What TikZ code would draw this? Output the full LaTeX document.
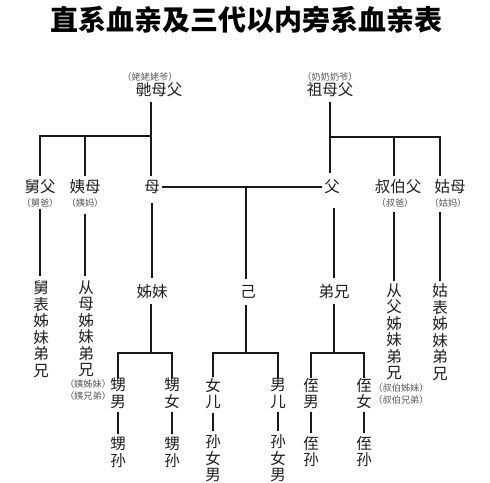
\documentclass[tikz,border=0pt]{standalone}
\usepackage{fontspec}
\setmainfont{Noto Sans CJK SC}
\begin{document}
\begin{tikzpicture}[x=1pt,y=-1pt,
  line width=1.2pt,
  main/.style={inner sep=0pt, font=\fontsize{15.5}{16.5}\selectfont, align=center, text=black!88},
  small/.style={inner sep=0pt, font=\fontsize{9.2}{12}\selectfont, align=center, text=black!65},
  ttl/.style={inner sep=0pt, font=\fontsize{28}{30}\selectfont\bfseries},
  ln/.style={draw=black!90}]
\useasboundingbox[fill=white] (0,0) rectangle (490,482);
% title
\node[ttl] (title) at (246,20) {直系血亲及三代以内旁系血亲表};
% generation 1
\node[small] (wgs) at (150,77) {（姥姥姥爷）};
\node[main]  (wg)  at (159,90) {毑母父};
\node[small] (zgs) at (330,77) {（奶奶奶爷）};
\node[main]  (zg)  at (330,90) {祖母父};
% generation 2
\node[main]  (jiu)  at (40,187) {舅父};
\node[small] (jius) at (40,203) {（舅爸）};
\node[main]  (yi)   at (85,187) {姨母};
\node[small] (yis)  at (85,203) {（姨妈）};
\node[main]  (mu)   at (152,187) {母};
\node[main]  (fu)   at (332,187) {父};
\node[main]  (shu)  at (398,187) {叔伯父};
\node[small] (shus) at (395,203) {（叔爸）};
\node[main]  (gu)   at (450,187) {姑母};
\node[small] (gus)  at (448,203) {（姑妈）};
% generation 3
\node[main] (jiucol) at (41,329) {舅\\表\\姊\\妹\\弟\\兄};
\node[main] (cmcol)  at (86,329) {从\\母\\姊\\妹\\弟\\兄};
\node[main] (zm)     at (152,292) {姊妹};
\node[main] (ji)     at (248,292) {己};
\node[main] (dx)     at (334,292) {弟兄};
\node[main] (cfcol)  at (394,332) {从\\父\\姊\\妹\\弟\\兄};
\node[main] (gbcol)  at (440,332) {姑\\表\\姊\\妹\\弟\\兄};
\node[small] (yizm)  at (88,390) {（姨姊妹）\\（姨兄弟）};
\node[small] (sbzm)  at (401,394) {（叔伯姊妹）\\（叔伯兄弟）};
% generation 4
\node[main] (sn)  at (118,393.5) {甥\\男};
\node[main] (snv) at (172,393.5) {甥\\女};
\node[main] (nv)  at (213,393.5) {女\\儿};
\node[main] (ne)  at (278,393.5) {男\\儿};
\node[main] (zn)  at (311,393.5) {侄\\男};
\node[main] (znv) at (364,393.5) {侄\\女};
% generation 5
\node[main] (ss1) at (118,452.5) {甥\\孙};
\node[main] (ss2) at (172,452.5) {甥\\孙};
\node[main] (sx1) at (213,458.5) {孙\\女\\男};
\node[main] (sx2) at (278,458.5) {孙\\女\\男};
\node[main] (zs1) at (311,451.5) {侄\\孙};
\node[main] (zs2) at (364,451.5) {侄\\孙};
% junctions
\coordinate (JL) at (151,136);
\coordinate (JR) at (330,137);
\coordinate (JM) at (246,187);
\coordinate (B1) at (151,353);
\coordinate (B2) at (246,353);
\coordinate (B3) at (334,353);
% top-left branch
\draw[ln, shorten <=4pt, shorten >=4pt] (wg.south -| JL) -- (mu.north -| JL);
\draw[ln, shorten >=3pt] (JL) -| (jiu.north);
\draw[ln, shorten >=3pt] (JL -| yi.north) -- (yi.north);
% top-right branch
\draw[ln, shorten <=4pt, shorten >=6pt] (zg.south -| JR) -- (fu.north -| JR);
\draw[ln, shorten >=3pt] (JR) -| (gbcol.north |- gu.north);
\draw[ln, shorten >=3pt] (JR -| cfcol.north) -- (cfcol.north |- shu.north);
% generation 2 to 3
\draw[ln, shorten <=14pt, shorten >=4pt] (jiu.south) -- (jiu.south |- jiucol.north);
\draw[ln, shorten <=6pt, shorten >=4pt] (yis.south) -- (yis.south |- cmcol.north);
\draw[ln, shorten <=4pt, shorten >=2pt] (cfcol.north |- shus.south) -- (cfcol.north);
\draw[ln, shorten <=4pt, shorten >=2pt] (gbcol.north |- gus.south) -- (gbcol.north);
\draw[ln, shorten <=9pt, shorten >=6pt] (mu.south) -- (mu.south |- zm.north);
\draw[ln, shorten <=2pt, shorten >=2pt] (mu.east) -- (fu.west);
\draw[ln, shorten >=6pt] (JM) -- (JM |- ji.north);
\draw[ln, shorten <=13pt, shorten >=6pt] (fu.south -| dx.north) -- (dx.north);
% generation 3 to 4
\draw[ln, shorten <=4pt] (zm.south -| B1) -- (B1);
\draw[ln] (sn.north) -- (sn.north |- B1) -- (snv.north |- B1) -- (snv.north);
\draw[ln, shorten <=6pt] (ji.south -| B2) -- (B2);
\draw[ln] (nv.north) -- (nv.north |- B2) -- (ne.north |- B2) -- (ne.north);
\draw[ln, shorten <=4pt] (dx.south -| B3) -- (B3);
\draw[ln] (zn.north) -- (zn.north |- B3) -- (znv.north |- B3) -- (znv.north);
% generation 4 to 5
\foreach \a/\b in {sn/ss1, snv/ss2, nv/sx1, ne/sx2, zn/zs1, znv/zs2}
  \draw[ln, shorten <=3pt, shorten >=3pt] (\a.south) -- (\b.north);
\end{tikzpicture}
\end{document}
